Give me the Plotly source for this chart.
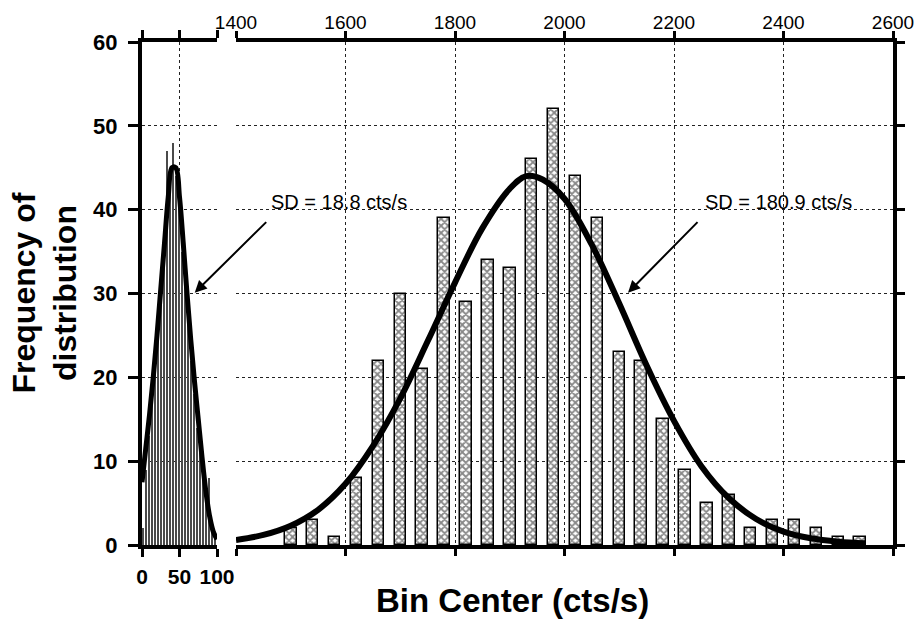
import plotly.graph_objects as go

# ---------------- data ----------------
# left panel: background histogram (bin width 4 cts/s)
left_bin_centers = [2, 6, 10, 14, 18, 22, 26, 30, 34, 38, 42, 46, 50, 54, 58, 62,
                    66, 70, 74, 78, 82, 86, 90, 94, 98]
left_counts = [2, 9, 13, 17, 21, 25, 30, 35, 47, 43, 48, 44, 44, 35, 32, 27,
               22, 18, 14, 11, 10, 5, 8, 2, 1]
# left panel: fitted curve
left_fit_x = [0, 5, 10, 15, 20, 25, 30, 35, 40, 45, 50, 55, 60, 65, 70, 75, 80,
              85, 90, 95, 100]
left_fit_y = [7.5, 11.5, 15.5, 20, 25, 30.5, 36, 41.5, 45, 45, 41.5, 36, 30,
              24.5, 19.5, 15, 10.5, 6.5, 3.5, 1.6, 0.7]

# right panel: signal histogram (bin width 40 cts/s)
right_bin_centers = [1500, 1540, 1580, 1620, 1660, 1700, 1740, 1780, 1820, 1860,
                     1900, 1940, 1980, 2020, 2060, 2100, 2140, 2180, 2220, 2260,
                     2300, 2340, 2380, 2420, 2460, 2500, 2540]
right_counts = [2, 3, 1, 8, 22, 30, 21, 39, 29, 34, 33, 46, 52, 44, 39, 23, 22,
                15, 9, 5, 6, 2, 3, 3, 2, 1, 1]
# right panel: fitted curve
right_fit_x = [1400, 1450, 1500, 1550, 1600, 1650, 1700, 1750, 1800, 1850, 1900,
               1930, 1960, 2000, 2050, 2100, 2150, 2200, 2250, 2300, 2350, 2400,
               2450, 2500, 2550]
right_fit_y = [0.6, 1.2, 2.3, 4.2, 7.3, 11.8, 17.5, 24.3, 31.3, 37.8, 42.5, 44.0,
               43.6, 41.3, 35.8, 28.8, 21.4, 14.8, 9.4, 5.6, 3.1, 1.6, 0.8, 0.4,
               0.2]

left_ticks = [0, 50, 100]
right_ticks = [1400, 1600, 1800, 2000, 2200, 2400, 2600]
y_ticks = [0, 10, 20, 30, 40, 50, 60]

sd_left_label = "SD = 18.8 cts/s"
sd_right_label = "SD = 180.9 cts/s"

# ---------------- figure ----------------
FONT = "Liberation Sans, Arial, sans-serif"
fig = go.Figure()

fig.add_trace(go.Bar(
    x=left_bin_centers, y=left_counts, width=1.6,
    marker=dict(color="#4a4a4a", line=dict(width=0)),
    xaxis="x", yaxis="y", showlegend=False))
fig.add_trace(go.Scatter(
    x=left_fit_x, y=left_fit_y, mode="lines",
    line=dict(color="black", width=5, shape="spline"),
    xaxis="x", yaxis="y", showlegend=False))

fig.add_trace(go.Bar(
    x=right_bin_centers, y=right_counts, width=21,
    marker=dict(color="white",
                line=dict(color="black", width=1.5),
                pattern=dict(shape="x", size=5, solidity=0.6,
                             fgcolor="#111111", bgcolor="white")),
    xaxis="x2", yaxis="y2", showlegend=False))
fig.add_trace(go.Scatter(
    x=right_fit_x, y=right_fit_y, mode="lines",
    line=dict(color="black", width=6, shape="spline"),
    xaxis="x2", yaxis="y2", showlegend=False))

L, R, T, B = 142, 23, 42, 75
W, H = 916, 620
pw = W - L - R
d1 = (217 - L) / pw
d2 = (236 - L) / pw

grid = dict(showgrid=True, gridcolor="#222222", gridwidth=1, griddash="dot")

fig.update_layout(
    width=W, height=H,
    margin=dict(l=L, r=R, t=T, b=B, autoexpand=False),
    paper_bgcolor="white", plot_bgcolor="white",
    bargap=0,
    font=dict(family=FONT, color="black"),
    xaxis=dict(domain=[0, d1], range=[0, 100], tickvals=left_ticks,
               side="bottom", anchor="y", automargin=False,
               showline=True, linecolor="black", linewidth=4,
               mirror="allticks", ticks="outside", ticklen=8, tickwidth=3,
               tickcolor="black", ticklabelstandoff=2,
               tickfont=dict(family=FONT, size=21, color="black", weight="bold"),
               zeroline=False, **grid),
    xaxis2=dict(domain=[d2, 1], range=[1400, 2600], tickvals=right_ticks,
                side="top", anchor="y2", automargin=False,
                showline=True, linecolor="black", linewidth=4,
                mirror="allticks", ticks="outside", ticklen=7, tickwidth=3,
                tickcolor="black", ticklabelstandoff=-6,
                tickfont=dict(family=FONT, size=19, color="black"),
                zeroline=False, **grid),
    yaxis=dict(range=[0, 60], tickvals=y_ticks, anchor="x", side="left",
               automargin=False,
               showline=True, linecolor="black", linewidth=4,
               ticks="outside", ticklen=10, tickwidth=3, tickcolor="black",
               ticklabelstandoff=6,
               tickfont=dict(family=FONT, size=22, color="black", weight="bold"),
               zeroline=False, **grid),
    yaxis2=dict(range=[0, 60], tickvals=y_ticks, anchor="x2", side="right",
                matches="y", automargin=False,
                showline=True, linecolor="black", linewidth=4,
                ticks="outside", ticklen=8, tickwidth=3, tickcolor="black",
                showticklabels=False, zeroline=False, **grid),
)

# axis titles
fig.add_annotation(text="Bin Center (cts/s)", xref="paper", yref="paper",
                   x=(512 - L) / pw, y=0, xanchor="center", yanchor="middle",
                   yshift=-55, showarrow=False,
                   font=dict(family=FONT, size=33, color="black", weight="bold"))
fig.add_annotation(text="Frequency of<br>distribution", xref="paper", yref="paper",
                   x=0, y=0.5, xanchor="center", yanchor="middle",
                   xshift=-98, textangle=-90, showarrow=False,
                   font=dict(family=FONT, size=32, color="black", weight="bold"))

# SD labels and arrows
fig.add_annotation(text=sd_left_label, xref="x2", yref="y2", x=1588, y=40.9,
                   showarrow=False,
                   font=dict(family=FONT, size=20, color="black"))
fig.add_annotation(text=sd_right_label, xref="x2", yref="y2", x=2390, y=40.9,
                   showarrow=False,
                   font=dict(family=FONT, size=20, color="black"))
fig.add_annotation(text="", xref="x", yref="y", x=70.3, y=30.1,
                   ax=73, ay=-72, showarrow=True, arrowhead=2, arrowsize=1.2,
                   arrowwidth=2, arrowcolor="black")
fig.add_annotation(text="", xref="x2", yref="y2", x=2116, y=30.1,
                   ax=71, ay=-72, showarrow=True, arrowhead=2, arrowsize=1.2,
                   arrowwidth=2, arrowcolor="black")

fig.write_html("out.html")
